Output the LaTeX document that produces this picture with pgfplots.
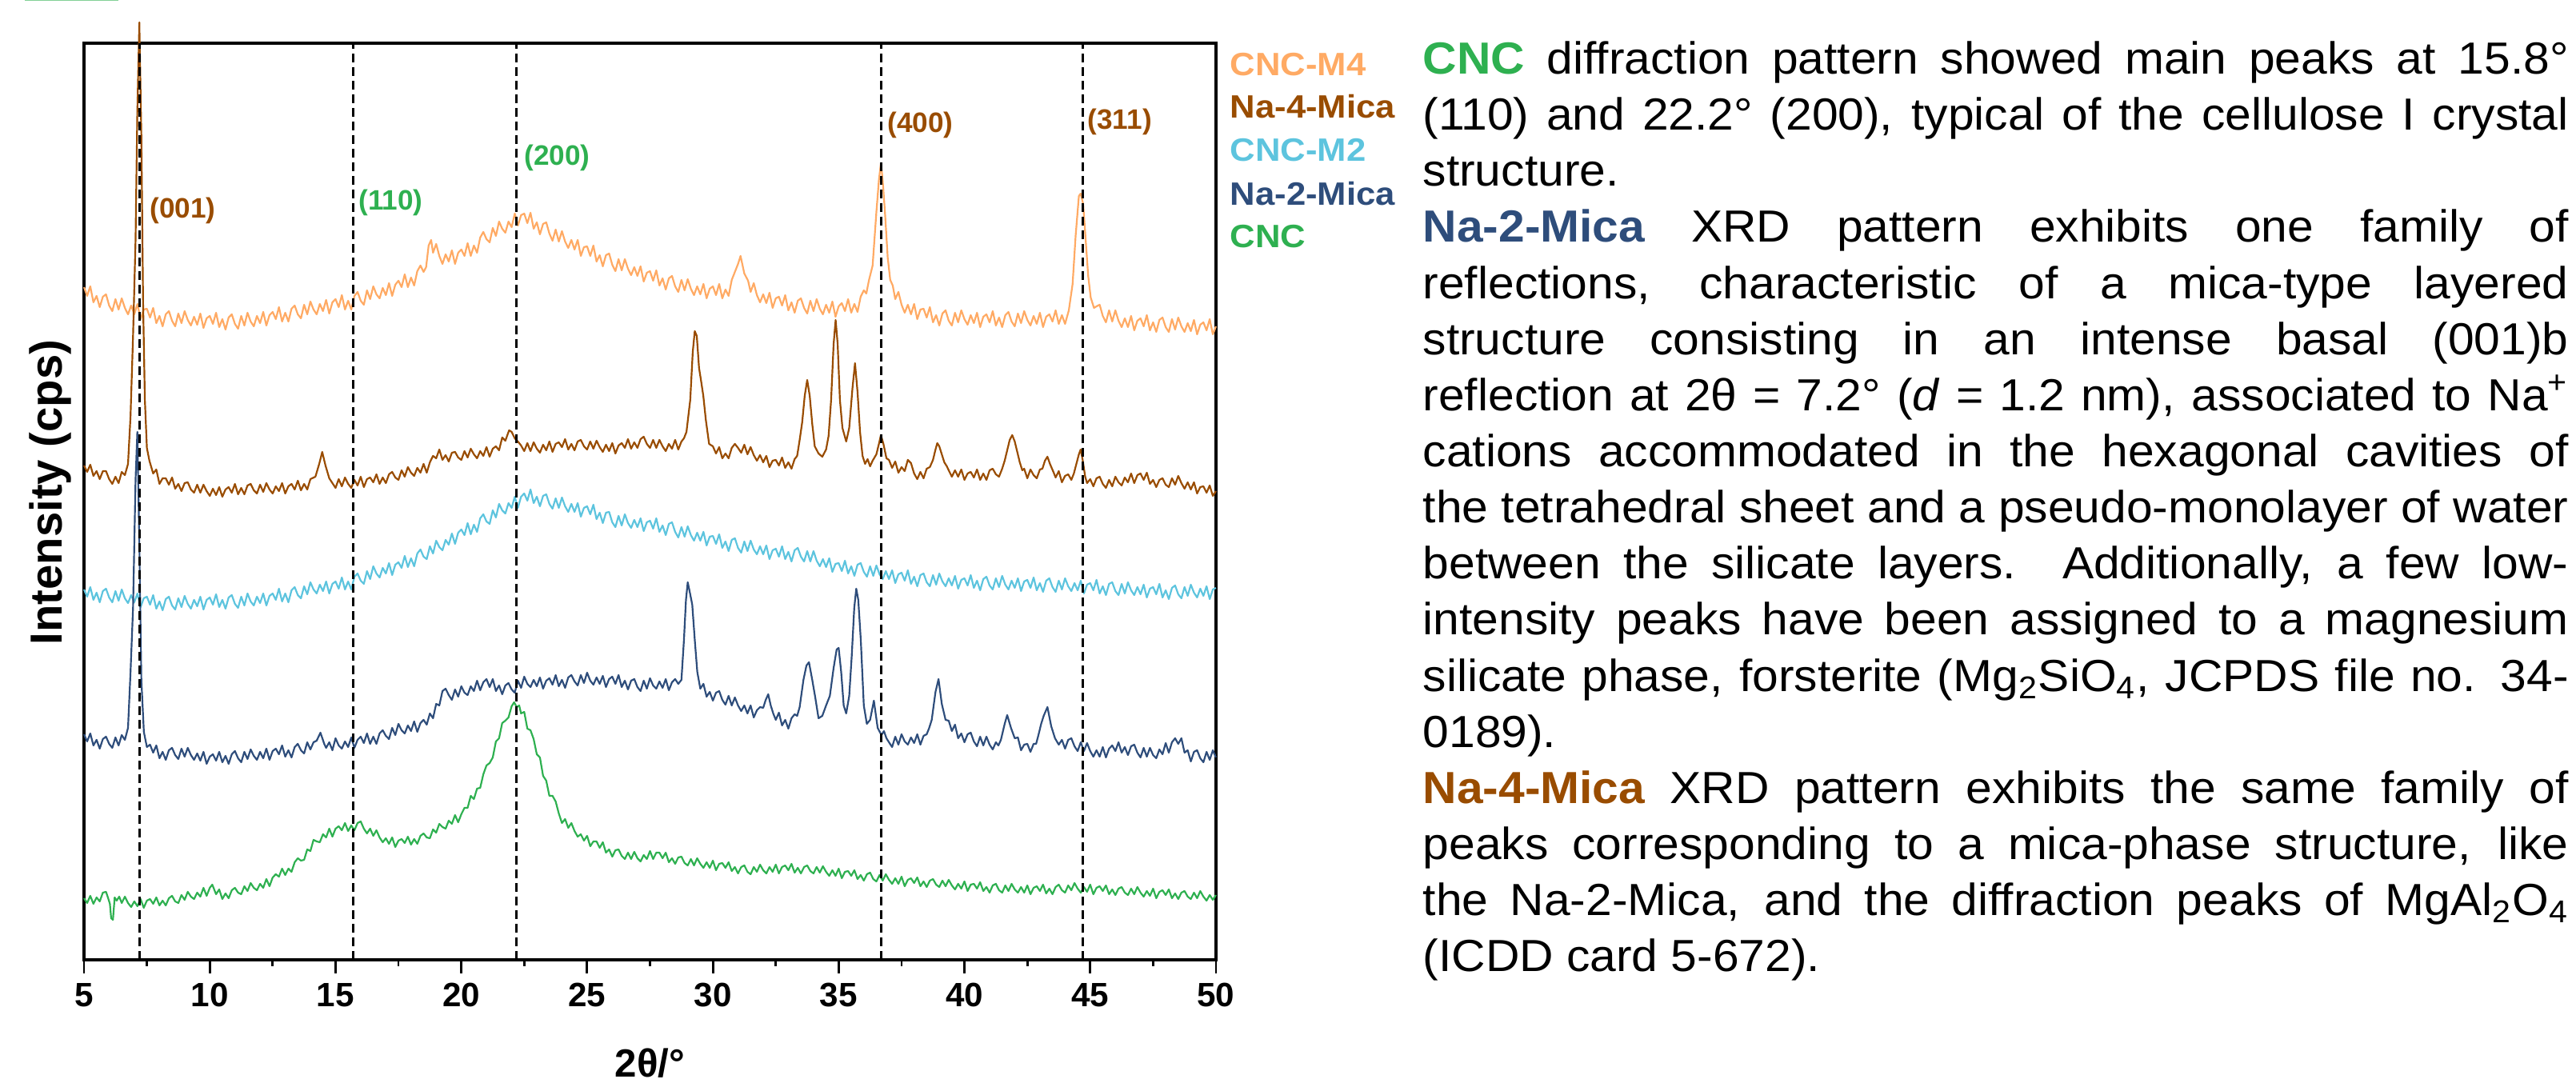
\documentclass[border=0pt]{standalone}
\usepackage{fontspec}
\setmainfont{Liberation Sans}
\newfontfamily\bodyfont[FakeStretch=1.045]{Liberation Sans}
\newfontfamily\legendfont[FakeStretch=1.08]{Liberation Sans}
\usepackage{pgfplots}
\pgfplotsset{compat=1.18}

\definecolor{cM4}{RGB}{255,170,100}
\definecolor{nM4}{RGB}{153,76,0}
\definecolor{cM2}{RGB}{93,196,222}
\definecolor{nM2}{RGB}{46,77,123}
\definecolor{cnc}{RGB}{46,176,80}

\begin{document}
\begin{tikzpicture}
\useasboundingbox (0,0) rectangle (32.2,13.54);
\fill[cnc!60] (0.31,13.525) rectangle (1.48,13.54);
\begin{axis}[
  at={(1.05cm,1.54cm)}, anchor=south west,
  width=14.15cm, height=11.46cm, scale only axis,
  xmin=5, xmax=50, ymin=0, ymax=1146,
  clip=false,
  axis line style={line width=0.9pt},
  xtick={5,10,...,50}, minor x tick num=1,
  ytick=\empty,
  xtick pos=left, tick align=outside,
  major tick length=0.17cm, minor tick length=0.08cm,
  tick style={line width=0.8pt, black},
  xticklabel style={font=\bfseries\fontsize{12}{12}\selectfont},
  /pgf/number format/assume math mode=true,
  xlabel={2θ/°},
  xlabel style={font=\bfseries\fontsize{14}{14}\selectfont, at={(axis description cs:0.5,-0.113)}, anchor=center},
  ylabel={Intensity (cps)},
  ylabel style={font=\bfseries\fontsize{16}{16}\selectfont, at={(axis description cs:-0.03,0.51)}, anchor=center},
  every axis plot/.append style={line width=0.62pt, line join=round},
]
% CNC-M4
\addplot[cM4] coordinates {
(5,841) (5.125,830) (5.25,842) (5.375,822) (5.5,830) (5.625,816) (5.75,829) (5.875,832) (6,818) (6.125,811) (6.25,826) (6.375,813) (6.5,827) (6.625,815) (6.75,807) (6.875,818) (7,807) (7.125,820) (7.25,801) (7.375,813)
(7.5,814) (7.625,803) (7.75,815) (7.875,796) (8,805) (8.125,792) (8.25,807) (8.375,811) (8.5,799) (8.625,792) (8.75,808) (8.875,796) (9,811) (9.125,800) (9.25,793) (9.375,804) (9.5,794) (9.625,808) (9.75,790) (9.875,802)
(10,805) (10.125,795) (10.25,809) (10.375,791) (10.5,801) (10.625,788) (10.75,803) (10.875,807) (11,795) (11.125,789) (11.25,805) (11.375,793) (11.5,809) (11.625,798) (11.75,792) (11.875,805) (12,796) (12.125,810) (12.25,793) (12.375,806)
(12.5,810) (12.625,801) (12.75,816) (12.875,798) (13,809) (13.125,798) (13.25,814) (13.375,818) (13.5,807) (13.625,802) (13.75,819) (13.875,807) (14,823) (14.125,813) (14.25,807) (14.375,820) (14.5,811) (14.625,825) (14.75,808) (14.875,822)
(15,826) (15.125,816) (15.25,831) (15.375,813) (15.5,824) (15.625,813) (15.75,830) (15.875,835) (16,824) (16.125,819) (16.25,837) (16.375,826) (16.5,842) (16.625,832) (16.75,827) (16.875,840) (17,831) (17.125,846) (17.25,830) (17.375,844)
(17.5,849) (17.625,841) (17.75,857) (17.875,841) (18,853) (18.125,843) (18.25,861) (18.375,868) (18.5,860) (18.6,866) (18.7,893) (18.8,900) (18.875,884) (19,895) (19.125,880) (19.25,870) (19.375,882) (19.5,873) (19.625,887) (19.75,870) (19.875,884)
(20,888) (20.125,880) (20.25,896) (20.375,880) (20.5,893) (20.625,884) (20.75,903) (20.875,910) (21,901) (21.125,897) (21.25,915) (21.375,905) (21.5,923) (21.625,914) (21.75,909) (21.875,923) (22,916) (22.125,933) (22.25,918) (22.375,931)
(22.5,933) (22.625,921) (22.75,934) (22.875,914) (23,922) (23.125,907) (23.25,920) (23.375,922) (23.5,908) (23.625,899) (23.75,913) (23.875,898) (24,911) (24.125,898) (24.25,890) (24.375,900) (24.5,888) (24.625,900) (24.75,880) (24.875,891)
(25,892) (25.125,880) (25.25,893) (25.375,873) (25.5,881) (25.625,867) (25.75,881) (25.875,883) (26,869) (26.125,861) (26.25,876) (26.375,862) (26.5,876) (26.625,864) (26.75,856) (26.875,866) (27,855) (27.125,867) (27.25,848) (27.375,859)
(27.5,861) (27.625,849) (27.75,862) (27.875,843) (28,852) (28.125,838) (28.25,852) (28.375,855) (28.5,842) (28.625,835) (28.75,850) (28.875,837) (29,851) (29.125,839) (29.25,831) (29.375,842) (29.5,832) (29.625,845) (29.75,827) (29.875,839)
(30,842) (30.125,831) (30.25,845) (30.375,827) (30.5,838) (30.625,830) (30.75,850) (30.9,862) (31,870) (31.1,880) (31.25,858) (31.4,849) (31.5,835) (31.625,846) (31.75,831) (31.875,822) (32,832) (32.125,821) (32.25,834) (32.375,815)
(32.5,827) (32.625,829) (32.75,818) (32.875,831) (33,812) (33.125,822) (33.25,809) (33.375,824) (33.5,827) (33.625,815) (33.75,808) (33.875,824) (34,811) (34.125,826) (34.25,814) (34.375,807) (34.5,819) (34.625,809) (34.75,823) (34.875,804)
(35,817) (35.125,821) (35.25,811) (35.375,826) (35.5,809) (35.625,820) (35.75,810) (35.875,829) (36,837) (36.1,833) (36.2,849) (36.35,868) (36.5,935) (36.6,975) (36.68,996) (36.75,975) (36.85,930) (36.95,878) (37.05,850) (37.15,843)
(37.25,826) (37.375,835) (37.5,819) (37.625,809) (37.75,819) (37.875,807) (38,820) (38.125,801) (38.25,813) (38.375,814) (38.5,803) (38.625,816) (38.75,797) (38.875,806) (39,793) (39.125,808) (39.25,812) (39.375,799) (39.5,793) (39.625,809)
(39.75,797) (39.875,812) (40,801) (40.125,794) (40.25,806) (40.375,796) (40.5,809) (40.625,791) (40.75,804) (40.875,807) (41,797) (41.125,811) (41.25,793) (41.375,803) (41.5,791) (41.625,806) (41.75,810) (41.875,798) (42,792) (42.125,808)
(42.25,796) (42.375,811) (42.5,800) (42.625,793) (42.75,805) (42.875,795) (43,809) (43.125,791) (43.25,804) (43.375,807) (43.5,798) (43.625,812) (43.75,795) (43.875,806) (44,795) (44.15,812) (44.3,845) (44.42,905) (44.55,955) (44.62,958)
(44.72,945) (44.82,900) (44.92,855) (45.02,828) (45.15,815) (45.25,817) (45.375,819) (45.5,805) (45.625,797) (45.75,812) (45.875,798) (46,812) (46.125,799) (46.25,791) (46.375,802) (46.5,791) (46.625,805) (46.75,787) (46.875,799)
(47,802) (47.125,792) (47.25,806) (47.375,787) (47.5,797) (47.625,785) (47.75,800) (47.875,803) (48,791) (48.125,785) (48.25,801) (48.375,788) (48.5,803) (48.625,792) (48.75,785) (48.875,796) (49,786) (49.125,800) (49.25,782) (49.375,794)
(49.5,797) (49.625,787) (49.75,801) (49.875,782) (50,792)
};
% Na-4-Mica
\addplot[nM4] coordinates {
(5,618) (5.125,610) (5.25,619) (5.375,605) (5.5,611) (5.625,601) (5.75,611) (5.875,611) (6,601) (6.125,595) (6.25,604) (6.375,596) (6.5,610) (6.625,606) (6.75,620) (6.85,680) (6.95,780) (7.05,900) (7.12,1060) (7.2,1172) (7.28,1030) (7.35,820) (7.42,700) (7.5,640) (7.6,624) (7.75,608) (7.875,613) (8,595) (8.125,602)
(8.25,602) (8.375,594) (8.5,603) (8.625,589) (8.75,595) (8.875,586) (9,596) (9.125,597) (9.25,588) (9.375,584) (9.5,594) (9.625,584) (9.75,594) (9.875,586) (10,580) (10.125,589) (10.25,581) (10.375,591) (10.5,579) (10.625,588)
(10.75,591) (10.875,584) (11,595) (11.125,582) (11.25,590) (11.375,582) (11.5,593) (11.625,595) (11.75,587) (11.875,583) (12,594) (12.125,585) (12.25,596) (12.375,588) (12.5,583) (12.625,592) (12.75,586) (12.875,596) (13,583) (13.125,592)
(13.25,595) (13.375,588) (13.5,599) (13.625,587) (13.75,595) (13.875,588) (14,601) (14.2,604) (14.35,620) (14.47,635) (14.6,618) (14.75,602) (14.875,596) (15,590) (15.125,601) (15.25,592) (15.375,603) (15.5,595) (15.625,590) (15.75,600)
(15.875,593) (16,604) (16.125,591) (16.25,601) (16.375,603) (16.5,597) (16.625,607) (16.75,595) (16.875,603) (17,596) (17.125,607) (17.25,610) (17.375,603) (17.5,600) (17.625,612) (17.75,604) (17.875,616) (18,609) (18.125,605) (18.25,615)
(18.375,609) (18.5,620) (18.625,609) (18.75,622) (18.875,630) (19,627) (19.125,638) (19.25,625) (19.375,631) (19.5,623) (19.625,634) (19.75,635) (19.875,628) (20,625) (20.125,636) (20.25,628) (20.375,639) (20.5,632) (20.625,627) (20.75,636)
(20.875,630) (21,641) (21.125,629) (21.25,639) (21.375,642) (21.5,637) (21.625,653) (21.75,649) (21.9,662) (22,660) (22.125,652) (22.25,648) (22.375,643) (22.5,636) (22.625,646) (22.75,636) (22.875,647) (23,639) (23.125,634) (23.25,644)
(23.375,637) (23.5,648) (23.625,635) (23.75,645) (23.875,647) (24,641) (24.125,651) (24.25,638) (24.375,645) (24.5,637) (24.625,648) (24.75,650) (24.875,642) (25,638) (25.125,648) (25.25,639) (25.375,649) (25.5,641) (25.625,635) (25.75,644)
(25.875,636) (26,646) (26.125,633) (26.25,643) (26.375,646) (26.5,640) (26.625,651) (26.75,639) (26.875,647) (27,640) (27.125,651) (27.25,654) (27.375,645) (27.5,640) (27.625,650) (27.75,640) (27.875,650) (28,642) (28.125,636) (28.25,645)
(28.375,639) (28.5,650) (28.625,638) (28.75,648) (28.85,652) (28.95,660) (29.1,700) (29.2,760) (29.28,786) (29.36,780) (29.45,740) (29.53,724) (29.62,705) (29.72,675) (29.85,645) (30,642) (30.125,633) (30.25,641) (30.375,627) (30.5,633)
(30.625,627) (30.75,640) (30.875,645) (31,640) (31.125,634) (31.25,644) (31.375,632) (31.5,641) (31.625,631) (31.75,624) (31.875,631) (32,622) (32.125,630) (32.25,616) (32.375,624) (32.5,625) (32.625,618) (32.75,628) (32.875,615) (33,622)
(33.125,614) (33.25,626) (33.35,630) (33.45,650) (33.55,672) (33.65,705) (33.75,725) (33.85,705) (33.95,670) (34.05,642) (34.2,633) (34.35,629) (34.5,638) (34.6,655) (34.7,700) (34.8,770) (34.88,800) (34.96,770) (35.05,700) (35.15,665)
(35.3,648) (35.42,665) (35.55,715) (35.65,746) (35.75,710) (35.85,660) (35.95,630) (36.05,620) (36.15,626) (36.25,617) (36.35,624) (36.5,632) (36.6,645) (36.68,656) (36.78,645) (36.9,627) (37,625) (37.125,615) (37.25,623) (37.375,609)
(37.5,616) (37.625,611) (37.75,625) (37.875,621) (38,608) (38.125,601) (38.25,610) (38.375,602) (38.5,614) (38.625,616) (38.75,625) (38.85,638) (38.92,646) (39,642) (39.1,632) (39.2,622) (39.3,617) (39.375,612) (39.5,604) (39.625,612)
(39.75,604) (39.875,613) (40,600) (40.125,608) (40.25,610) (40.375,603) (40.5,613) (40.625,600) (40.75,608) (40.875,600) (41,612) (41.125,614) (41.25,607) (41.375,604) (41.5,614) (41.6,624) (41.7,637) (41.8,650) (41.9,656) (42,648)
(42.1,635) (42.2,622) (42.3,612) (42.375,614) (42.5,602) (42.625,613) (42.75,606) (42.875,602) (43,613) (43.1,614) (43.2,624) (43.3,629) (43.4,620) (43.55,609) (43.625,603) (43.75,611) (43.875,597) (44,605) (44.125,607) (44.25,600)
(44.35,608) (44.45,620) (44.55,632) (44.62,638) (44.7,625) (44.8,604) (44.875,596) (45,601) (45.125,592) (45.25,602) (45.375,604) (45.5,595) (45.625,590) (45.75,600) (45.875,592) (46,604) (46.125,597) (46.25,593) (46.375,603) (46.5,597)
(46.625,608) (46.75,596) (46.875,606) (47,608) (47.125,600) (47.25,609) (47.375,595) (47.5,600) (47.625,591) (47.75,600) (47.875,602) (48,594) (48.125,591) (48.25,602) (48.375,594) (48.5,605) (48.625,596) (48.75,589) (48.875,597) (49,588)
(49.125,597) (49.25,583) (49.375,591) (49.5,592) (49.625,584) (49.75,593) (49.875,580) (50,586)
};
% CNC-M2
\addplot[cM2] coordinates {
(5,463) (5.125,454) (5.25,466) (5.375,450) (5.5,459) (5.625,447) (5.75,461) (5.875,464) (6,453) (6.125,447) (6.25,461) (6.375,449) (6.5,463) (6.625,452) (6.75,446) (6.875,456) (7,447) (7.125,458) (7.25,441) (7.375,452)
(7.5,454) (7.625,444) (7.75,456) (7.875,439) (8,448) (8.125,437) (8.25,451) (8.375,454) (8.5,443) (8.625,438) (8.75,452) (8.875,441) (9,455) (9.125,445) (9.25,439) (9.375,450) (9.5,442) (9.625,454) (9.75,438) (9.875,450)
(10,453) (10.125,444) (10.25,457) (10.375,441) (10.5,450) (10.625,439) (10.75,453) (10.875,456) (11,445) (11.125,440) (11.25,454) (11.375,443) (11.5,458) (11.625,448) (11.75,443) (11.875,454) (12,446) (12.125,458) (12.25,443) (12.375,455)
(12.5,458) (12.625,450) (12.75,464) (12.875,448) (13,458) (13.125,447) (13.25,462) (13.375,466) (13.5,456) (13.625,452) (13.75,467) (13.875,457) (14,472) (14.125,463) (14.25,458) (14.375,469) (14.5,461) (14.625,473) (14.75,458) (14.875,470)
(15,473) (15.125,464) (15.25,478) (15.375,463) (15.5,473) (15.625,463) (15.75,479) (15.875,483) (16,474) (16.125,470) (16.25,486) (16.375,476) (16.5,492) (16.625,483) (16.75,478) (16.875,490) (17,483) (17.125,496) (17.25,481) (17.375,494)
(17.5,497) (17.625,490) (17.75,505) (17.875,491) (18,502) (18.125,492) (18.25,508) (18.375,513) (18.5,504) (18.625,501) (18.75,517) (18.875,508) (19,524) (19.125,516) (19.25,512) (19.375,525) (19.5,519) (19.625,533) (19.75,520) (19.875,534)
(20,538) (20.125,531) (20.25,546) (20.375,532) (20.5,544) (20.625,535) (20.75,552) (20.875,557) (21,548) (21.125,545) (21.25,562) (21.375,553) (21.5,570) (21.625,562) (21.75,558) (21.875,571) (22,565) (22.125,579) (22.25,565) (22.375,579)
(22.5,583) (22.625,574) (22.75,588) (22.875,571) (23,579) (23.125,567) (23.25,580) (23.375,582) (23.5,570) (23.625,564) (23.75,577) (23.875,565) (24,578) (24.125,567) (24.25,560) (24.375,570) (24.5,560) (24.625,571) (24.75,554) (24.875,565)
(25,567) (25.125,557) (25.25,569) (25.375,551) (25.5,559) (25.625,546) (25.75,559) (25.875,560) (26,547) (26.125,541) (26.25,555) (26.375,543) (26.5,557) (26.625,546) (26.75,540) (26.875,550) (27,541) (27.125,552) (27.25,536) (27.375,547)
(27.5,549) (27.625,539) (27.75,552) (27.875,535) (28,543) (28.125,531) (28.25,545) (28.375,547) (28.5,535) (28.625,528) (28.75,541) (28.875,529) (29,542) (29.125,531) (29.25,524) (29.375,534) (29.5,524) (29.625,535) (29.75,518) (29.875,529)
(30,530) (30.125,520) (30.25,532) (30.375,515) (30.5,523) (30.625,511) (30.75,525) (30.875,527) (31,515) (31.125,509) (31.25,523) (31.375,511) (31.5,524) (31.625,513) (31.75,507) (31.875,517) (32,507) (32.125,518) (32.25,501) (32.375,512)
(32.5,514) (32.625,504) (32.75,517) (32.875,501) (33,510) (33.125,498) (33.25,512) (33.375,515) (33.5,504) (33.625,498) (33.75,511) (33.875,498) (34,511) (34.125,499) (34.25,492) (34.375,501) (34.5,491) (34.625,502) (34.75,485) (34.875,495)
(35,496) (35.125,486) (35.25,499) (35.375,483) (35.5,492) (35.625,480) (35.75,494) (35.875,496) (36,485) (36.125,479) (36.25,492) (36.375,480) (36.5,493) (36.625,482) (36.75,476) (36.875,486) (37,476) (37.125,487) (37.25,471) (37.375,482)
(37.5,484) (37.625,474) (37.75,487) (37.875,470) (38,479) (38.125,467) (38.25,481) (38.375,483) (38.5,472) (38.625,467) (38.75,481) (38.875,469) (39,483) (39.125,473) (39.25,467) (39.375,477) (39.5,468) (39.625,480) (39.75,464) (39.875,475)
(40,477) (40.125,468) (40.25,481) (40.375,465) (40.5,474) (40.625,462) (40.75,476) (40.875,479) (41,468) (41.125,463) (41.25,477) (41.375,466) (41.5,480) (41.625,469) (41.75,463) (41.875,474) (42,465) (42.125,477) (42.25,461) (42.375,473)
(42.5,475) (42.625,465) (42.75,478) (42.875,462) (43,471) (43.125,460) (43.25,474) (43.375,477) (43.5,466) (43.625,460) (43.75,474) (43.875,463) (44,477) (44.125,467) (44.25,461) (44.375,471) (44.5,462) (44.625,474) (44.75,458) (44.875,469)
(45,471) (45.125,462) (45.25,475) (45.375,458) (45.5,467) (45.625,456) (45.75,470) (45.875,472) (46,461) (46.125,456) (46.25,470) (46.375,458) (46.5,472) (46.625,462) (46.75,456) (46.875,466) (47,457) (47.125,469) (47.25,453) (47.375,464)
(47.5,466) (47.625,457) (47.75,470) (47.875,453) (48,462) (48.125,451) (48.25,465) (48.375,468) (48.5,457) (48.625,452) (48.75,466) (48.875,455) (49,469) (49.125,459) (49.25,453) (49.375,464) (49.5,455) (49.625,467) (49.75,451) (49.875,463) (50,465)
};
% Na-2-Mica
\addplot[nM2] coordinates {
(5,282) (5.125,273) (5.25,283) (5.375,268) (5.5,275) (5.625,264) (5.75,276) (5.875,279) (6,270) (6.125,265) (6.25,278) (6.375,268) (6.5,281) (6.625,275) (6.75,290) (6.85,360) (6.95,440) (7.05,600) (7.12,660) (7.2,520) (7.28,350) (7.38,285) (7.5,266)
(7.625,269) (7.75,259) (7.875,268) (8,252) (8.125,260) (8.25,250) (8.375,262) (8.5,265) (8.625,256) (8.75,251) (8.875,264) (9,254) (9.125,265) (9.25,256) (9.375,250) (9.5,258) (9.625,249) (9.75,260) (9.875,245) (10,254)
(10.125,257) (10.25,249) (10.375,260) (10.5,247) (10.625,255) (10.75,245) (10.875,257) (11,261) (11.125,252) (11.25,247) (11.375,260) (11.5,251) (11.625,263) (11.75,255) (11.875,250) (12,260) (12.125,252) (12.25,264) (12.375,250) (12.5,261)
(12.625,264) (12.75,257) (12.875,268) (13,254) (13.125,262) (13.25,253) (13.375,266) (13.5,270) (13.625,262) (13.75,258) (13.875,272) (14,263) (14.125,272) (14.25,274) (14.4,284) (14.55,270) (14.625,265) (14.75,272) (14.875,262) (15,277)
(15.125,268) (15.25,264) (15.375,273) (15.5,266) (15.625,278) (15.75,265) (15.875,275) (16,279) (16.125,271) (16.25,283) (16.375,270) (16.5,279) (16.625,270) (16.75,283) (16.875,287) (17,280) (17.125,276) (17.25,290) (17.375,281) (17.5,295)
(17.625,287) (17.75,283) (17.875,293) (18,286) (18.125,298) (18.25,285) (18.375,296) (18.5,300) (18.625,294) (18.75,308) (18.875,302) (19,320) (19.125,318) (19.25,336) (19.375,339) (19.5,331) (19.625,325) (19.75,338) (19.875,329) (20,342)
(20.125,334) (20.25,331) (20.375,342) (20.5,336) (20.625,349) (20.75,337) (20.875,347) (21,351) (21.125,341) (21.25,351) (21.375,336) (21.5,343) (21.625,332) (21.75,343) (21.875,346) (22,338) (22.125,334) (22.25,349) (22.375,340) (22.5,354)
(22.625,345) (22.75,341) (22.875,350) (23,342) (23.125,353) (23.25,339) (23.375,349) (23.5,352) (23.625,344) (23.75,356) (23.875,342) (24,350) (24.125,340) (24.25,353) (24.375,356) (24.5,348) (24.625,343) (24.75,356) (24.875,346) (25,359)
(25.125,349) (25.25,344) (25.375,353) (25.5,345) (25.625,355) (25.75,341) (25.875,351) (26,354) (26.125,345) (26.25,356) (26.375,341) (26.5,349) (26.625,338) (26.75,349) (26.875,351) (27,341) (27.125,336) (27.25,349) (27.375,339) (27.5,352)
(27.625,343) (27.75,339) (27.875,348) (28,340) (28.125,351) (28.25,337) (28.375,347) (28.5,351) (28.625,345) (28.75,350) (28.85,400) (28.93,450) (29,472) (29.08,460) (29.18,444) (29.28,400) (29.38,360) (29.5,339) (29.625,345) (29.75,329)
(29.875,335) (30,324) (30.125,334) (30.25,336) (30.375,325) (30.5,319) (30.625,330) (30.75,318) (30.875,328) (31,318) (31.125,311) (31.25,318) (31.375,308) (31.5,318) (31.625,303) (31.75,312) (31.875,316) (32,315) (32.1,325) (32.2,332)
(32.3,318) (32.4,308) (32.5,300) (32.625,309) (32.75,293) (32.875,300) (33,289) (33.125,302) (33.25,307) (33.35,305) (33.45,316) (33.6,350) (33.72,368) (33.82,372) (33.95,350) (34.07,328) (34.2,302) (34.35,305) (34.5,318) (34.65,330)
(34.8,365) (34.92,388) (35,390) (35.1,360) (35.2,318) (35.3,308) (35.42,330) (35.52,380) (35.62,440) (35.7,464) (35.78,450) (35.88,400) (36,318) (36.12,295) (36.25,300) (36.4,324) (36.55,290) (36.7,281) (36.8,286) (36.9,277)
(37,272) (37.125,266) (37.25,279) (37.375,269) (37.5,282) (37.625,273) (37.75,269) (37.875,278) (38,271) (38.125,282) (38.25,269) (38.375,280) (38.5,282) (38.6,290) (38.7,300) (38.85,335) (38.97,351) (39.1,320) (39.25,300) (39.375,299)
(39.5,286) (39.625,294) (39.75,277) (39.875,283) (40,272) (40.125,282) (40.25,284) (40.375,273) (40.5,267) (40.625,279) (40.75,268) (40.875,279) (41,269) (41.125,263) (41.25,272) (41.35,268) (41.45,275) (41.6,295) (41.7,306) (41.85,290)
(42,277) (42.125,278) (42.25,262) (42.375,269) (42.5,270) (42.625,260) (42.75,270) (42.85,270) (42.95,282) (43.05,295) (43.15,305) (43.3,316) (43.45,292) (43.6,277) (43.75,269) (43.875,275) (44,264) (44.125,275) (44.25,277) (44.375,267)
(44.5,261) (44.625,272) (44.75,261) (44.875,271) (45,261) (45.125,254) (45.25,262) (45.375,254) (45.5,266) (45.625,253) (45.75,264) (45.875,268) (46,261) (46.125,272) (46.25,259) (46.375,266) (46.5,256) (46.625,267) (46.75,269) (46.875,259)
(47,253) (47.125,265) (47.25,254) (47.375,265) (47.5,256) (47.625,252) (47.75,263) (47.875,257) (48,271) (48.125,259) (48.25,272) (48.375,277) (48.5,270) (48.625,277) (48.75,259) (48.875,262) (49,248) (49.125,260) (49.25,262) (49.375,252)
(49.5,247) (49.625,260) (49.75,250) (49.875,262) (50,253)
};
% CNC
\addplot[cnc] coordinates {
(5,77) (5.125,71) (5.25,80) (5.375,70) (5.5,78) (5.625,73) (5.75,84) (5.875,85) (5.95,78) (6.03,70) (6.08,52) (6.15,50) (6.22,78) (6.3,74) (6.4,79) (6.5,71) (6.625,79) (6.75,71) (6.875,66) (7,73)
(7.125,67) (7.25,76) (7.375,65) (7.5,74) (7.625,76) (7.75,70) (7.875,78) (8,68) (8.125,74) (8.25,68) (8.375,77) (8.5,80) (8.625,73) (8.75,71) (8.875,81) (9,75) (9.125,85) (9.25,79) (9.375,76) (9.5,84)
(9.625,79) (9.75,90) (9.875,80) (10,90) (10.1,94) (10.25,82) (10.375,88) (10.5,76) (10.625,83) (10.75,77) (10.875,87) (11,90) (11.125,84) (11.25,82) (11.375,92) (11.5,86) (11.625,96) (11.75,90) (11.875,87) (12,95)
(12.125,90) (12.25,101) (12.375,92) (12.5,103) (12.625,107) (12.75,104) (12.875,114) (13,106) (13.125,114) (13.25,110) (13.375,122) (13.5,127) (13.625,124) (13.75,125) (13.875,138) (14,136) (14.125,150) (14.25,148) (14.375,147) (14.5,157)
(14.625,153) (14.75,164) (14.875,154) (15,164) (15.125,167) (15.25,162) (15.375,171) (15.5,161) (15.625,168) (15.75,162) (15.875,171) (16,173) (16.125,164) (16.25,158) (16.375,164) (16.5,155) (16.625,162) (16.75,153) (16.875,147) (17,152)
(17.125,145) (17.25,153) (17.375,141) (17.5,149) (17.625,151) (17.75,146) (17.875,154) (18,144) (18.125,151) (18.25,145) (18.375,155) (18.5,158) (18.625,153) (18.75,152) (18.875,163) (19,159) (19.125,170) (19.25,166) (19.375,164) (19.5,174)
(19.625,170) (19.75,181) (19.875,172) (20,182) (20.125,190) (20.25,190) (20.375,205) (20.5,201) (20.625,214) (20.75,215) (20.875,232) (21,243) (21.125,246) (21.25,253) (21.375,273) (21.5,277) (21.625,296) (21.75,299) (21.875,303) (22,317)
(22.1,322) (22.2,316) (22.3,318) (22.375,308) (22.5,310) (22.625,289) (22.75,287) (22.875,276) (23,257) (23.125,253) (23.25,230) (23.375,224) (23.5,205) (23.625,205) (23.75,198) (23.875,183) (24,171) (24.125,176) (24.25,165) (24.375,171)
(24.5,161) (24.625,154) (24.75,157) (24.875,149) (25,155) (25.125,142) (25.25,148) (25.375,148) (25.5,140) (25.625,147) (25.75,134) (25.875,138) (26,129) (26.125,137) (26.25,138) (26.375,130) (26.5,126) (26.625,134) (26.75,126) (26.875,135)
(27,127) (27.125,123) (27.25,131) (27.375,126) (27.5,136) (27.625,126) (27.75,134) (27.875,134) (28,127) (28.125,134) (28.25,122) (28.375,127) (28.5,120) (28.625,128) (28.75,129) (28.875,121) (29,118) (29.125,126) (29.25,118) (29.375,127)
(29.5,120) (29.625,115) (29.75,122) (29.875,115) (30,124) (30.125,112) (30.25,120) (30.375,121) (30.5,115) (30.625,122) (30.75,111) (30.875,116) (31,108) (31.125,116) (31.25,118) (31.375,110) (31.5,107) (31.625,116) (31.75,110) (31.875,119)
(32,112) (32.125,108) (32.25,116) (32.375,110) (32.5,119) (32.625,108) (32.75,116) (32.875,118) (33,112) (33.125,120) (33.25,109) (33.375,115) (33.5,108) (33.625,116) (33.75,118) (33.875,111) (34,108) (34.125,116) (34.25,109) (34.375,117)
(34.5,110) (34.625,105) (34.75,112) (34.875,105) (35,114) (35.125,102) (35.25,110) (35.375,111) (35.5,105) (35.625,112) (35.75,101) (35.875,106) (36,99) (36.125,107) (36.25,109) (36.375,101) (36.5,98) (36.625,106) (36.75,99) (36.875,107)
(37,100) (37.125,95) (37.25,102) (37.375,95) (37.5,104) (37.625,92) (37.75,100) (37.875,102) (38,96) (38.125,103) (38.25,92) (38.375,98) (38.5,91) (38.625,99) (38.75,101) (38.875,94) (39,91) (39.125,99) (39.25,92) (39.375,100)
(39.5,93) (39.625,88) (39.75,95) (39.875,89) (40,98) (40.125,86) (40.25,94) (40.375,95) (40.5,89) (40.625,97) (40.75,86) (40.875,91) (41,84) (41.125,93) (41.25,95) (41.375,87) (41.5,84) (41.625,93) (41.75,86) (41.875,95)
(42,88) (42.125,84) (42.25,91) (42.375,84) (42.5,93) (42.625,82) (42.75,90) (42.875,92) (43,86) (43.125,94) (43.25,83) (43.375,89) (43.5,82) (43.625,91) (43.75,94) (43.875,87) (44,84) (44.125,93) (44.25,87) (44.375,96)
(44.5,89) (44.625,84) (44.75,91) (44.875,85) (45,94) (45.125,82) (45.25,90) (45.375,92) (45.5,86) (45.625,93) (45.75,82) (45.875,88) (46,81) (46.125,89) (46.25,91) (46.375,84) (46.5,81) (46.625,89) (46.75,82) (46.875,91)
(47,84) (47.125,79) (47.25,86) (47.375,80) (47.5,89) (47.625,77) (47.75,85) (47.875,87) (48,81) (48.125,88) (48.25,77) (48.375,83) (48.5,76) (48.625,84) (48.75,86) (48.875,79) (49,76) (49.125,84) (49.25,77) (49.375,86)
(49.5,79) (49.625,74) (49.75,81) (49.875,75) (50,81)
};
% reference lines
\addplot[black, line width=0.85pt, dash pattern=on 0.11cm off 0.06cm] coordinates {(7.2,0) (7.2,1146)};
\addplot[black, line width=0.85pt, dash pattern=on 0.11cm off 0.06cm] coordinates {(15.7,0) (15.7,1146)};
\addplot[black, line width=0.85pt, dash pattern=on 0.11cm off 0.06cm] coordinates {(22.2,0) (22.2,1146)};
\addplot[black, line width=0.85pt, dash pattern=on 0.11cm off 0.06cm] coordinates {(36.7,0) (36.7,1146)};
\addplot[black, line width=0.85pt, dash pattern=on 0.11cm off 0.06cm] coordinates {(44.7,0) (44.7,1146)};
% reflection labels
\node[anchor=west, inner sep=0, text=nM4, font=\bfseries\fontsize{10}{10}\selectfont] at (axis cs:7.6,937) {(001)};
\node[anchor=west, inner sep=0, text=cnc, font=\bfseries\fontsize{10}{10}\selectfont] at (axis cs:15.9,947) {(110)};
\node[anchor=west, inner sep=0, text=cnc, font=\bfseries\fontsize{10}{10}\selectfont] at (axis cs:22.48,1003) {(200)};
\node[anchor=west, inner sep=0, text=nM4, font=\bfseries\fontsize{10}{10}\selectfont] at (axis cs:36.92,1044) {(400)};
\node[anchor=west, inner sep=0, text=nM4, font=\bfseries\fontsize{10}{10}\selectfont] at (axis cs:44.88,1048) {(311)};
\end{axis}
% sample names
\begin{scope}[every node/.style={anchor=base west, inner sep=0, font=\legendfont\bfseries\fontsize{11.5}{11.5}\selectfont}]
\node[text=cM4] at (15.37,12.59) {CNC-M4};
\node[text=nM4] at (15.37,12.06) {Na-4-Mica};
\node[text=cM2] at (15.37,11.52) {CNC-M2};
\node[text=nM2] at (15.37,10.97) {Na-2-Mica};
\node[text=cnc] at (15.37,10.44) {CNC};
\end{scope}
% description text
\node[anchor=north west, inner sep=0, text width=14.32cm, align=justify,
      font=\bodyfont\fontsize{16}{19.96}\selectfont] at (17.78,13.03) {%
\hyphenpenalty=10000 \tolerance=10000 \parindent=0pt
{\color{cnc}\bfseries CNC} diffraction pattern showed main peaks at 15.8°\linebreak
(110) and 22.2° (200), typical of the cellulose I crystal\linebreak
structure.\par
{\color{nM2}\bfseries Na-2-Mica} XRD pattern exhibits one family of\linebreak
reflections, characteristic of a mica-type layered\linebreak
structure consisting in an intense basal (001)b\linebreak
reflection at 2θ = 7.2° (\textit{d} = 1.2 nm), associated to Na\textsuperscript{+}\linebreak
cations accommodated in the hexagonal cavities of\linebreak
the tetrahedral sheet and a pseudo-monolayer of water\linebreak
between the silicate layers. Additionally, a few low-\linebreak
intensity peaks have been assigned to a magnesium\linebreak
silicate phase, forsterite (Mg\textsubscript{2}SiO\textsubscript{4}, JCPDS file no. 34-\linebreak
0189).\par
{\color{nM4}\bfseries Na-4-Mica} XRD pattern exhibits the same family of\linebreak
peaks corresponding to a mica-phase structure, like\linebreak
the Na-2-Mica, and the diffraction peaks of MgAl\textsubscript{2}O\textsubscript{4}\linebreak
(ICDD card 5-672).};
\end{tikzpicture}
\end{document}
